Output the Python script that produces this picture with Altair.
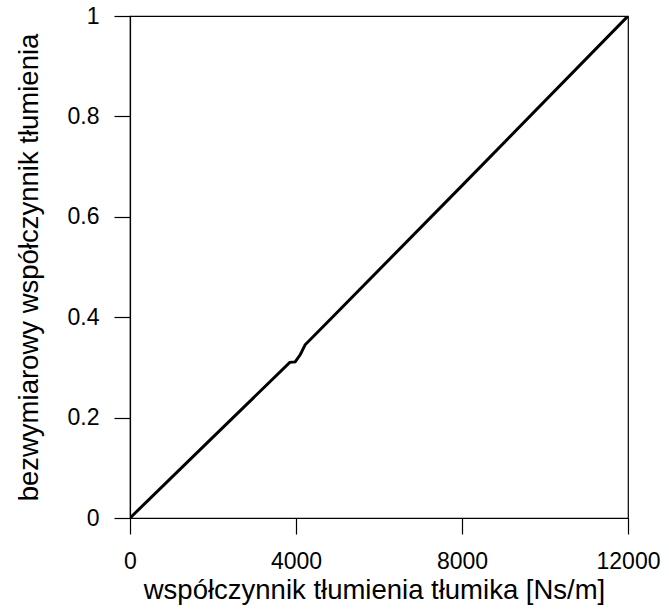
import altair as alt
import pandas as pd

x_vals = [0, 2000, 3850, 3980, 4100, 4220, 4900, 8000, 12000]
y_vals = [0, 0.161, 0.310, 0.311, 0.325, 0.345, 0.402, 0.662, 1.0]

df = pd.DataFrame({"x": x_vals, "y": y_vals})

FONT = "Liberation Sans"

line = alt.Chart(df).mark_line(color="black", strokeWidth=3, clip=True).encode(
    x=alt.X("x:Q",
            scale=alt.Scale(domain=[0, 12000], nice=False, zero=False),
            axis=alt.Axis(title="współczynnik tłumienia tłumika [Ns/m]",
                          values=[0, 4000, 8000, 12000], format="d",
                          grid=False, tickSize=16, labelPadding=16,
                          titlePadding=3, titleX=244, labelFlush=False)),
    y=alt.Y("y:Q",
            scale=alt.Scale(domain=[0, 1], nice=False, zero=False),
            axis=alt.Axis(title="bezwymiarowy współczynnik tłumienia",
                          values=[0, 0.2, 0.4, 0.6, 0.8, 1],
                          labelExpr="datum.value == 0 ? '0' : datum.value == 1 ? '1' : format(datum.value, '.1f')",
                          grid=False, tickSize=16, labelPadding=15,
                          titlePadding=24, labelFlush=False)),
)

chart = line.properties(
    width=498, height=502,
    autosize=alt.AutoSizeParams(type="none"),
    padding={"left": 130, "top": 16, "right": 41, "bottom": 92},
    background="white",
).configure_view(
    stroke="black", strokeWidth=1.2
).configure_axis(
    domainColor="black", domainWidth=1.2, tickColor="black", tickWidth=1.2,
    labelColor="black", titleColor="black",
    labelFont=FONT, titleFont=FONT, labelFontSize=23, titleFontSize=27.5,
    titleFontWeight="normal",
)

chart.save("out.html", embed_options={"renderer": "svg", "actions": False})
